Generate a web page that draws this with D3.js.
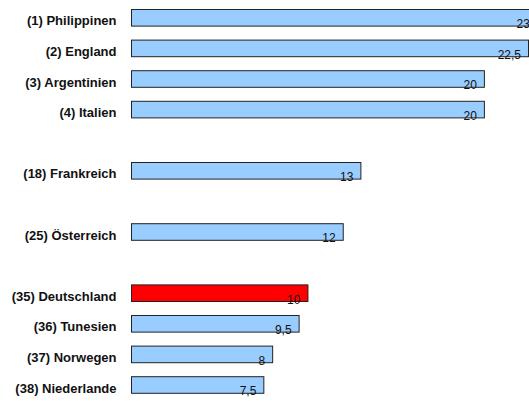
<!DOCTYPE html>
<html>
<head>
<meta charset="utf-8">
<script src="https://cdn.jsdelivr.net/npm/d3@7"></script>
<style>
  html, body { margin: 0; padding: 0; background: #fff; }
  svg { display: block; }
</style>
</head>
<body>
<div id="chart"></div>
<script>
const countries = [
    '(1) Philippinen', '(2) England', '(3) Argentinien', '(4) Italien',
    '(18) Frankreich', '(25) Österreich',
    '(35) Deutschland', '(36) Tunesien', '(37) Norwegen', '(38) Niederlande'
];
const values = [23, 22.5, 20, 20, 13, 12, 10, 9.5, 8, 7.5];
const valueLabels = ['23', '22,5', '20', '20', '13', '12', '10', '9,5', '8', '7,5'];
const gapsAfter = ['(4) Italien', '(18) Frankreich', '(25) Österreich'];
const highlight = '(35) Deutschland';

const width = 529;
const height = 401;

const rows = countries.map((c, i) => ({ name: c, value: values[i], label: valueLabels[i] }));

// empty slots between the rank groups
const slots = [];
countries.forEach(c => {
    slots.push(c);
    if (gapsAfter.includes(c)) slots.push('gap-' + c);
});

const svg = d3.select('#chart')
    .append('svg')
    .attr('width', width)
    .attr('height', height);

const y = d3.scaleBand()
    .domain(slots)
    .range([2.5, 400.3])
    .paddingInner(0.4575)
    .paddingOuter(0.4575 / 2);

const x = d3.scaleLinear()
    .domain([0, 22.5])
    .range([131.5, 528.5]);

svg.append('g')
    .attr('class', 'bars')
    .selectAll('rect')
    .data(rows).enter().append('rect')
    .attr('x', x(0))
    .attr('y', d => y(d.name))
    .attr('width', d => x(d.value) - x(0))
    .attr('height', y.bandwidth())
    .attr('fill', d => d.name === highlight ? '#ff0000' : '#99ccff')
    .attr('stroke', '#222')
    .attr('stroke-width', 1);

svg.append('g')
    .attr('class', 'values')
    .selectAll('text')
    .data(rows).enter().append('text')
    .attr('x', d => x(d.value) - 7.5)
    .attr('y', d => y(d.name) + y.bandwidth() + 2)
    .attr('text-anchor', 'end')
    .attr('font-family', 'Arial, "Liberation Sans", sans-serif')
    .attr('font-size', 12)
    .attr('fill', '#111')
    .text(d => d.label);

const yAxis = d3.axisLeft(y)
    .tickValues(countries)
    .tickSize(0)
    .tickPadding(15);

const axisG = svg.append('g')
    .attr('transform', `translate(${x(0)},0)`)
    .call(yAxis);

axisG.select('.domain').remove();
axisG.selectAll('text')
    .attr('dy', '0')
    .attr('y', 7.5)
    .attr('font-family', 'Arial, "Liberation Sans", sans-serif')
    .attr('font-size', 13)
    .attr('font-weight', 'bold')
    .attr('fill', '#111');
</script>
</body>
</html>
